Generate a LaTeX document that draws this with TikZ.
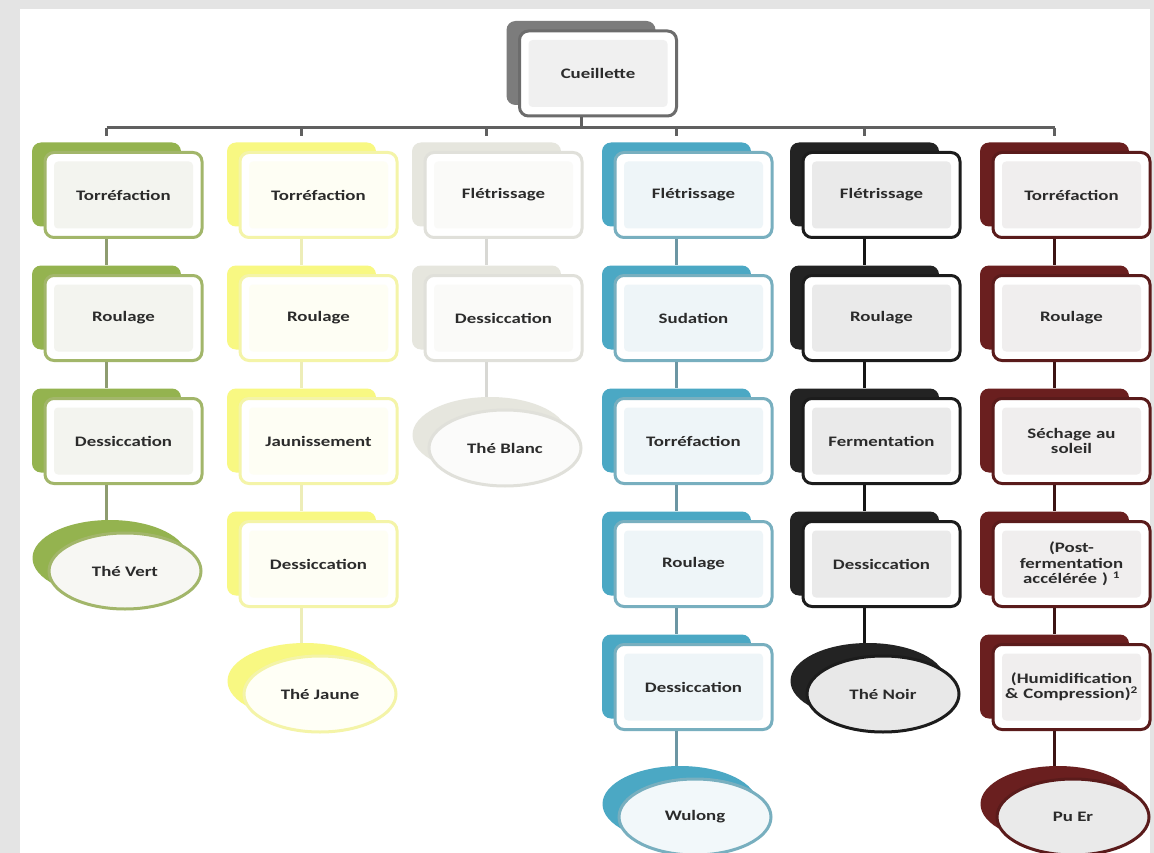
\documentclass[tikz,border=0pt]{standalone}
\usepackage{fontspec}
\newfontfamily\lbl{Carlito}[FakeStretch=1.3]
\usetikzlibrary{shapes.geometric,calc}
% column colours: back / line / inner / connector / ellipse fill
\definecolor{gback}{HTML}{94B34F}\definecolor{gline}{HTML}{A2B66A}\definecolor{gin}{HTML}{F3F4EF}\definecolor{gcon}{HTML}{8E9C70}\definecolor{gell}{HTML}{F7F7F3}
\definecolor{yback}{HTML}{F8F882}\definecolor{yline}{HTML}{F4F4A8}\definecolor{yin}{HTML}{FEFEF4}\definecolor{ycon}{HTML}{EDEDB8}\definecolor{yell}{HTML}{FFFFF6}
\definecolor{wback}{HTML}{E6E6DE}\definecolor{wline}{HTML}{E0E0DA}\definecolor{win}{HTML}{FAFAF8}\definecolor{wcon}{HTML}{D8D8D4}\definecolor{well}{HTML}{FBFBFA}
\definecolor{bback}{HTML}{4BA8C4}\definecolor{bline}{HTML}{78AFBF}\definecolor{bin}{HTML}{EEF5F8}\definecolor{bcon}{HTML}{6C96A3}\definecolor{bell}{HTML}{F2F8FA}
\definecolor{kback}{HTML}{232323}\definecolor{kline}{HTML}{1C1C1C}\definecolor{kin}{HTML}{EAEAEA}\definecolor{kcon}{HTML}{151515}\definecolor{kell}{HTML}{E8E8E8}
\definecolor{rback}{HTML}{6A1F1F}\definecolor{rline}{HTML}{5A1B1B}\definecolor{rin}{HTML}{F0EEEE}\definecolor{rcon}{HTML}{3C1414}\definecolor{rell}{HTML}{EAEAEA}
\definecolor{cback}{HTML}{7C7C7C}\definecolor{cline}{HTML}{6C6C6C}\definecolor{cin}{HTML}{F0F0F0}
\definecolor{txt}{HTML}{2B2B2B}
\definecolor{barcol}{HTML}{606060}
\definecolor{bggray}{HTML}{E4E4E4}
\tikzset{
  backbox/.style={fill=#1back, rounded corners=9pt, minimum width=149pt, minimum height=84pt, inner sep=0pt},
  frontbox/.style={fill=white, draw=#1line, line width=3pt, rounded corners=9pt,
    minimum width=157pt, minimum height=85pt, inner sep=0pt, text width=150pt, align=center,
    font=\lbl\bfseries\fontsize{14.5}{15.5}\selectfont, text=txt,
    path picture={\fill[#1in, rounded corners=4pt] ($(path picture bounding box.south west)+(9pt,9pt)$) rectangle ($(path picture bounding box.north east)+(-9pt,-9pt)$);}},
  backell/.style={ellipse, fill=#1back, minimum width=155pt, minimum height=76pt, inner sep=0pt},
  frontell/.style={ellipse, fill=#1ell, draw=#1line, line width=3pt, minimum width=152pt, minimum height=76pt,
    inner sep=0pt, align=center, font=\lbl\bfseries\fontsize{14.5}{15.5}\selectfont, text=txt},
  conn/.style={draw=#1con, line width=3pt},
  barline/.style={draw=barcol, line width=3pt}
}
\newcommand\stepnode[5]{%
  \pgfmathsetmacro\xc{#2+78.5}\pgfmathsetmacro\yc{195+123*#3}%
  \node[backbox=#4] (#1b) at (\xc-17,\yc-10.5) {};
  \node[frontbox=#4] (#1) at (\xc,\yc) {#5};}
\newcommand\teanode[5]{%
  \pgfmathsetmacro\xc{#2+80}\pgfmathsetmacro\yc{195+123*#3+7}%
  \node[backell=#4] (#1b) at (\xc-15,\yc-13) {};
  \node[frontell=#4] (#1) at (\xc,\yc) {#5};}
\begin{document}
\begin{tikzpicture}[x=1pt,y=-1pt]
\useasboundingbox (0,0) rectangle (1154,853);
\fill[bggray] (0,0) rectangle (1154,853);
\fill[white] (20,9) rectangle (1150,853);
\coordinate (bar) at (0,128);
\coordinate (tick) at (0,136);
% Cueillette
\node[backbox=c] (cb) at (581,63) {};
\node[frontbox=c] (c) at (598,73.5) {Cueillette};
\draw[barline] (cb |- c.south) -- (cb |- bar);
% green
\stepnode{g1}{45}{0}{g}{Torréfaction}
\stepnode{g2}{45}{1}{g}{Roulage}
\stepnode{g3}{45}{2}{g}{Dessiccation}
\teanode{gt}{45}{3}{g}{Thé Vert}
\draw[conn=g] (g1b |- g1.south) -- (g2b.north);
\draw[conn=g] (g2b |- g2.south) -- (g3b.north);
\draw[conn=g] (g3b |- g3.south) -- (g3b |- gtb.north);
% yellow
\stepnode{y1}{240}{0}{y}{Torréfaction}
\stepnode{y2}{240}{1}{y}{Roulage}
\stepnode{y3}{240}{2}{y}{Jaunissement}
\stepnode{y4}{240}{3}{y}{Dessiccation}
\teanode{yt}{240}{4}{y}{Thé Jaune}
\draw[conn=y] (y1b |- y1.south) -- (y2b.north);
\draw[conn=y] (y2b |- y2.south) -- (y3b.north);
\draw[conn=y] (y3b |- y3.south) -- (y4b.north);
\draw[conn=y] (y4b |- y4.south) -- (y4b |- ytb.north);
% white
\stepnode{w1}{425}{0}{w}{Flétrissage}
\stepnode{w2}{425}{1}{w}{Dessiccation}
\teanode{wt}{425}{2}{w}{Thé Blanc}
\draw[conn=w] (w1b |- w1.south) -- (w2b.north);
\draw[conn=w] (w2b |- w2.south) -- (w2b |- wtb.north);
% blue
\stepnode{b1}{615}{0}{b}{Flétrissage}
\stepnode{b2}{615}{1}{b}{Sudation}
\stepnode{b3}{615}{2}{b}{Torréfaction}
\stepnode{b4}{615}{3}{b}{Roulage}
\stepnode{b5}{615}{4}{b}{Dessiccation}
\teanode{bt}{615}{5}{b}{Wulong}
\draw[conn=b] (b1b |- b1.south) -- (b2b.north);
\draw[conn=b] (b2b |- b2.south) -- (b3b.north);
\draw[conn=b] (b3b |- b3.south) -- (b4b.north);
\draw[conn=b] (b4b |- b4.south) -- (b5b.north);
\draw[conn=b] (b5b |- b5.south) -- (b5b |- btb.north);
% black
\stepnode{k1}{803}{0}{k}{Flétrissage}
\stepnode{k2}{803}{1}{k}{Roulage}
\stepnode{k3}{803}{2}{k}{Fermentation}
\stepnode{k4}{803}{3}{k}{Dessiccation}
\teanode{kt}{803}{4}{k}{Thé Noir}
\draw[conn=k] (k1b |- k1.south) -- (k2b.north);
\draw[conn=k] (k2b |- k2.south) -- (k3b.north);
\draw[conn=k] (k3b |- k3.south) -- (k4b.north);
\draw[conn=k] (k4b |- k4.south) -- (k4b |- ktb.north);
% red
\stepnode{r1}{993}{0}{r}{Torréfaction}
\stepnode{r2}{993}{1}{r}{Roulage}
\stepnode{r3}{993}{2}{r}{Séchage au\\soleil}
\stepnode{r4}{993}{3}{r}{(Post-\\fermentation\\accélérée )~\textsuperscript{1}}
\stepnode{r5}{993}{4}{r}{(Humidification\\\&~Compression)\textsuperscript{2}}
\teanode{rt}{993}{5}{r}{Pu Er}
\draw[conn=r] (r1b |- r1.south) -- (r2b.north);
\draw[conn=r] (r2b |- r2.south) -- (r3b.north);
\draw[conn=r] (r3b |- r3.south) -- (r4b.north);
\draw[conn=r] (r4b |- r4.south) -- (r5b.north);
\draw[conn=r] (r5b |- r5.south) -- (r5b |- rtb.north);
% top bar
\draw[barline] (g1b |- bar) -- (r1b |- bar);
\foreach \n in {g1b,y1b,w1b,b1b,k1b,r1b} \draw[barline] (\n |- bar) -- (\n |- tick);
\end{tikzpicture}
\end{document}
